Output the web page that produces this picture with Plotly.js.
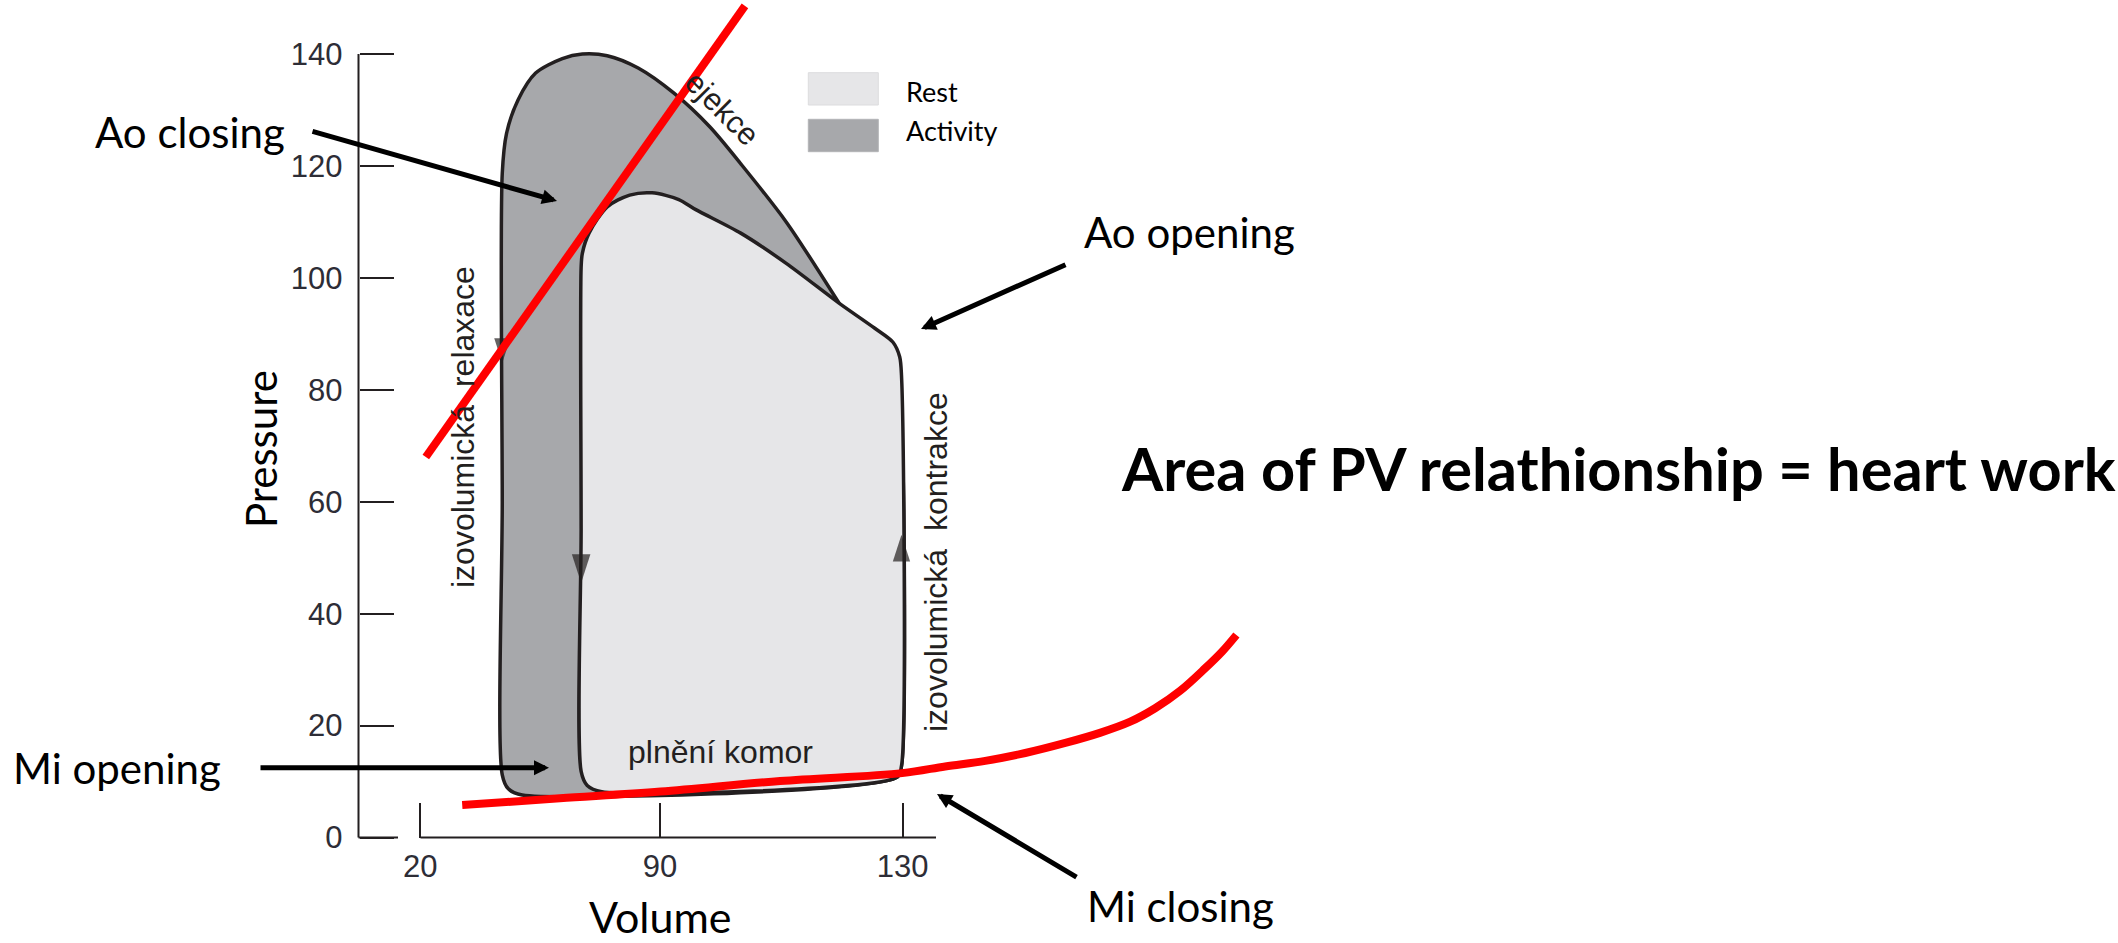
<!DOCTYPE html>
<html>
<head>
<meta charset="utf-8">
<script src="https://cdn.plot.ly/plotly-3.0.1.min.js"></script>
<style>html,body{margin:0;padding:0;background:#fff;}#chart{width:2118px;height:943px;}</style>
</head>
<body>
<div id="chart"></div>
<script>
// ---------- data (volume, pressure) ----------
// each loop is traced clockwise from the middle of its left (vertical) edge and closed there
const activityVolume   = [64.0, 64.0, 64.7, 66.6, 69.5, 73.9, 77.2, 81.3, 86.4, 92.3, 98.2, 103.3, 110.8, 119.5, 123.0, 127.1, 129.1, 129.8, 129.8, 129.1, 67.3, 65.0, 64.0, 64.0];
const activityPressure = [60.0, 118.7, 125.8, 131.8, 136.6, 139.2, 140.0, 139.7, 137.5, 133.0, 127.0, 120.4, 110.0, 95.5, 89.3, 81.8, 76.8, 71.9, 12.8, 10.8, 7.6, 8.7, 11.2, 60.0];

const restVolume   = [77.0, 77.0, 77.2, 78.3, 81.3, 85.0, 88.7, 93.1, 95.9, 103.3, 110.8, 119.5, 125.4, 128.4, 129.5, 129.8, 129.8, 129.1, 80.4, 78.0, 77.0, 77.0];
const restPressure = [55.0, 101.9, 104.4, 108.0, 112.7, 114.8, 115.2, 114.0, 112.2, 108.0, 102.6, 95.5, 91.0, 88.5, 85.9, 82.6, 12.8, 10.8, 8.2, 9.3, 11.8, 55.0];

// end-systolic (Ao closing) line and end-diastolic (filling) curve
const espvrVolume   = [51.4, 104.0];
const espvrPressure = [68.0, 148.6];
const edpvrVolume   = [57.4, 73.5, 90.1, 109.8, 129.9, 137.0, 143.6, 150.2, 156.8, 162.5, 167.5, 171.6, 175.7, 179.8, 182.7, 185.0];
const edpvrPressure = [5.8, 7.0, 8.2, 10.1, 11.5, 12.7, 13.7, 15.1, 16.9, 18.7, 20.7, 23.1, 26.2, 30.2, 33.3, 36.2];

// direction arrowheads on the loops
const arrowVolume   = [64.0, 77.0, 129.8];
const arrowPressure = [84.8, 45.5, 54.1];
const arrowAngle    = [180, 180, 0];

// axis ticks (the volume axis is broken: "20" sits at the break)
const yTickVals = [0, 20, 40, 60, 80, 100, 120, 140];
const xTickVals = [50.5, 90, 130];
const xTickText = ['20', '90', '130'];

const seriesNames = ['Rest', 'Activity'];

// ---------- layout helpers ----------
const W = 2118, H = 943;
const PX = x => x / W;          // pixel -> paper x
const PY = y => 1 - y / H;      // pixel -> paper y
const ink = '#231f20';
const calibriLike = 'Lato, "Open Sans", sans-serif';
const helv = '"Liberation Sans", Arial, sans-serif';

const traces = [
  { x: activityVolume, y: activityPressure, mode: 'lines', fill: 'toself', fillcolor: '#a7a8ab',
    line: { color: ink, width: 3.5, shape: 'spline', smoothing: 0.8 }, name: seriesNames[1], showlegend: false, hoverinfo: 'skip' },
  { x: restVolume, y: restPressure, mode: 'lines', fill: 'toself', fillcolor: '#e6e6e8',
    line: { color: ink, width: 3.5, shape: 'spline', smoothing: 0.8 }, name: seriesNames[0], showlegend: false, hoverinfo: 'skip' },
  { x: arrowVolume, y: arrowPressure, mode: 'markers', showlegend: false, hoverinfo: 'skip',
    marker: { symbol: 'arrow', size: [26, 30, 28], angle: arrowAngle, color: ink, line: { width: 0 } } },
  { x: edpvrVolume, y: edpvrPressure, mode: 'lines', line: { color: '#ff0000', width: 8, shape: 'spline', smoothing: 1 },
    showlegend: false, hoverinfo: 'skip' },
  { x: espvrVolume, y: espvrPressure, mode: 'lines', line: { color: '#ff0000', width: 8 },
    showlegend: false, hoverinfo: 'skip' }
];

function arrow(tipX, tipY, tailX, tailY) {
  return { xref: 'paper', yref: 'paper', x: PX(tipX), y: PY(tipY), ax: tailX - tipX, ay: tailY - tipY,
    text: ' ', font: { size: 1 }, showarrow: true, arrowhead: 2, arrowsize: 0.6, arrowwidth: 5, arrowcolor: '#000' };
}
function label(text, cx, cy, size, opts) {
  return Object.assign({ xref: 'paper', yref: 'paper', x: PX(cx), y: PY(cy), text: text, showarrow: false,
    xanchor: 'center', yanchor: 'middle', font: { family: calibriLike, size: size, color: '#000' } }, opts || {});
}

const annotations = [
  label('Ao closing', 189.5, 131.7, 42),
  label('Ao opening', 1189, 231.7, 42),
  label('Mi opening', 117, 768, 42),
  label('Mi closing', 1180, 906, 42),
  label('<b>Area of PV relathionship = heart work</b>', 1119, 467.5, 59.5, { xanchor: 'left' }),
  label('Pressure', 261, 449, 42, { textangle: -90 }),
  label('Volume', 660, 916, 43),
  label(seriesNames[0], 904, 91.7, 27, { xanchor: 'left' }),
  label(seriesNames[1], 904, 130.3, 27, { xanchor: 'left' }),
  label('plnění komor', 720, 752, 32, { font: { family: helv, size: 32, color: ink } }),
  label('izovolumická  relaxace', 463, 427, 32, { textangle: -90, font: { family: helv, size: 32, color: ink } }),
  label('izovolumická  kontrakce', 936, 562, 32, { textangle: -90, font: { family: helv, size: 32, color: ink } }),
  label('ejekce', 722, 109, 31, { textangle: 45, font: { family: helv, size: 31, color: ink } }),
  arrow(557, 201, 311, 131),
  arrow(921, 329, 1067, 264),
  arrow(549, 767.7, 259, 767.7),
  arrow(937, 794, 1078, 878)
];

const axisLine = { color: ink, width: 2 };
const shapes = [
  // y axis line (0..140) and its bottom stub
  { type: 'line', xref: 'paper', yref: 'y', x0: PX(358.5), x1: PX(358.5), y0: 0, y1: 140, line: axisLine },
  { type: 'line', xref: 'paper', yref: 'y', x0: PX(358.5), x1: PX(398), y0: 0, y1: 0, line: axisLine },
  // x axis line after the break
  { type: 'line', xref: 'paper', yref: 'y', x0: PX(420.5), x1: PX(936), y0: 0, y1: 0, line: axisLine },
  // legend swatches
  { type: 'rect', xref: 'paper', yref: 'paper', x0: PX(808.3), x1: PX(878.3), y0: PY(105), y1: PY(72.7),
    fillcolor: '#e6e6e8', line: { width: 1, color: '#dcdcde' } },
  { type: 'rect', xref: 'paper', yref: 'paper', x0: PX(808.3), x1: PX(878.3), y0: PY(151.7), y1: PY(119.3),
    fillcolor: '#a7a8ab', line: { width: 1, color: '#b3b4b7' } }
];

const layout = {
  width: W, height: H,
  margin: { l: 0, r: 0, t: 0, b: 0, pad: 0 },
  paper_bgcolor: '#ffffff', plot_bgcolor: '#ffffff',
  showlegend: false,
  xaxis: {
    range: [-18.78, 330.30], anchor: 'free', position: PY(837.5),
    showgrid: false, zeroline: false, showline: false,
    tickmode: 'array', tickvals: xTickVals, ticktext: xTickText,
    ticks: 'inside', ticklen: 35, tickwidth: 2, tickcolor: ink,
    ticklabelstandoff: 7,
    tickfont: { family: helv, size: 31, color: '#2d2d36' }
  },
  yaxis: {
    range: [-18.853, 149.66], anchor: 'free', position: PX(358.5),
    showgrid: false, zeroline: false, showline: false,
    tickmode: 'array', tickvals: yTickVals,
    ticks: 'inside', ticklen: 34, tickwidth: 2, tickcolor: ink,
    ticklabelstandoff: 16,
    tickfont: { family: helv, size: 31, color: '#2d2d36' }
  },
  shapes: shapes,
  annotations: annotations
};

Plotly.newPlot('chart', traces, layout, { staticPlot: true, displayModeBar: false });
</script>
</body>
</html>
